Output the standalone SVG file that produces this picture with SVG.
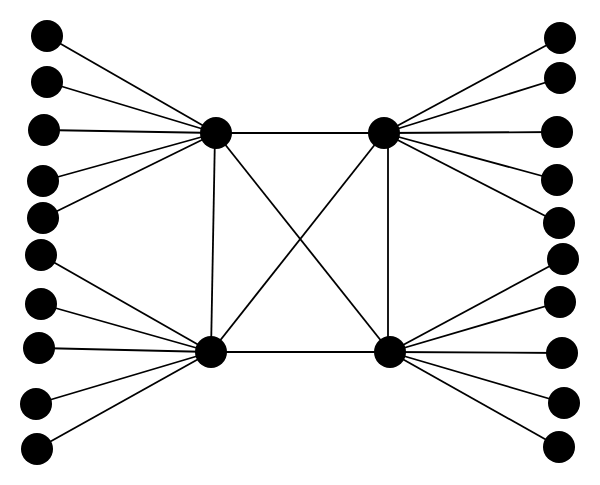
<svg xmlns="http://www.w3.org/2000/svg" width="600" height="485" viewBox="0 0 600 485">
<style>
.e{stroke:#000;stroke-width:1.8;fill:none}
.n{fill:#000}
</style>
<rect width="600" height="485" fill="#fff"/>
<g id="connectors" class="e">
<line x1="216" y1="133" x2="384" y2="133"/>
<line x1="211" y1="352" x2="390" y2="352"/>
<line x1="215" y1="133" x2="211" y2="352"/>
<line x1="388" y1="133" x2="388" y2="352"/>
<line x1="216" y1="133" x2="390" y2="352"/>
<line x1="384" y1="133" x2="211" y2="352"/>
<line x1="47" y1="36" x2="216" y2="133"/>
<line x1="47" y1="82" x2="216" y2="133"/>
<line x1="44" y1="130" x2="216" y2="133"/>
<line x1="43" y1="181" x2="216" y2="133"/>
<line x1="43" y1="218" x2="216" y2="133"/>
<line x1="41" y1="255" x2="211" y2="352"/>
<line x1="41" y1="304" x2="211" y2="352"/>
<line x1="39" y1="348" x2="211" y2="352"/>
<line x1="36" y1="404" x2="211" y2="352"/>
<line x1="37" y1="449" x2="211" y2="352"/>
<line x1="560" y1="38" x2="384" y2="133"/>
<line x1="560" y1="78" x2="384" y2="133"/>
<line x1="557" y1="132" x2="384" y2="133"/>
<line x1="557" y1="180" x2="384" y2="133"/>
<line x1="559" y1="223" x2="384" y2="133"/>
<line x1="563" y1="259" x2="390" y2="352"/>
<line x1="560" y1="302" x2="390" y2="352"/>
<line x1="562" y1="353" x2="390" y2="352"/>
<line x1="564" y1="403" x2="390" y2="352"/>
<line x1="559" y1="447" x2="390" y2="352"/>
</g>
<g id="hubTL"><circle class="n" cx="216" cy="133" r="16"/></g>
<g id="hubTR"><circle class="n" cx="384" cy="133" r="16"/></g>
<g id="hubBL"><circle class="n" cx="211" cy="352" r="16"/></g>
<g id="hubBR"><circle class="n" cx="390" cy="352" r="16"/></g>
<g id="L1"><circle class="n" cx="47" cy="36" r="16"/></g>
<g id="L2"><circle class="n" cx="47" cy="82" r="16"/></g>
<g id="L3"><circle class="n" cx="44" cy="130" r="16"/></g>
<g id="L4"><circle class="n" cx="43" cy="181" r="16"/></g>
<g id="L5"><circle class="n" cx="43" cy="218" r="16"/></g>
<g id="L6"><circle class="n" cx="41" cy="255" r="16"/></g>
<g id="L7"><circle class="n" cx="41" cy="304" r="16"/></g>
<g id="L8"><circle class="n" cx="39" cy="348" r="16"/></g>
<g id="L9"><circle class="n" cx="36" cy="404" r="16"/></g>
<g id="L10"><circle class="n" cx="37" cy="449" r="16"/></g>
<g id="R1"><circle class="n" cx="560" cy="38" r="16"/></g>
<g id="R2"><circle class="n" cx="560" cy="78" r="16"/></g>
<g id="R3"><circle class="n" cx="557" cy="132" r="16"/></g>
<g id="R4"><circle class="n" cx="557" cy="180" r="16"/></g>
<g id="R5"><circle class="n" cx="559" cy="223" r="16"/></g>
<g id="R6"><circle class="n" cx="563" cy="259" r="16"/></g>
<g id="R7"><circle class="n" cx="560" cy="302" r="16"/></g>
<g id="R8"><circle class="n" cx="562" cy="353" r="16"/></g>
<g id="R9"><circle class="n" cx="564" cy="403" r="16"/></g>
<g id="R10"><circle class="n" cx="559" cy="447" r="16"/></g>
</svg>
